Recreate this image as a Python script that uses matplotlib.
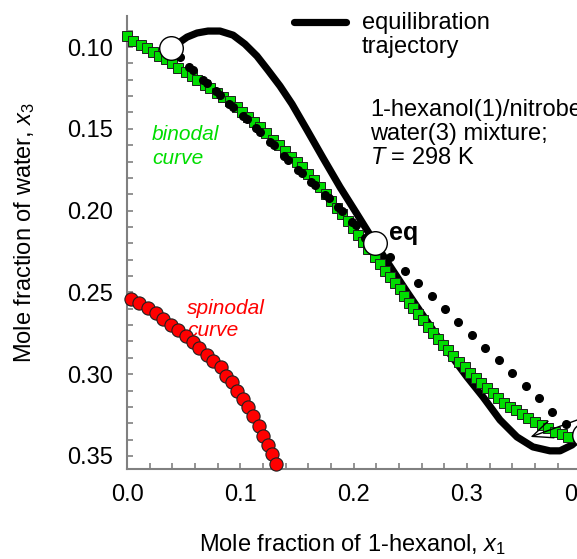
import matplotlib
matplotlib.use("Agg")
import matplotlib.pyplot as plt
from matplotlib.lines import Line2D
from matplotlib.ticker import MultipleLocator

plt.rcParams["font.family"] = ["Liberation Sans", "DejaVu Sans"]
plt.rcParams["mathtext.fontset"] = "custom"
plt.rcParams["mathtext.rm"] = "Liberation Sans"
plt.rcParams["mathtext.it"] = "Liberation Sans:italic"
plt.rcParams["mathtext.bf"] = "Liberation Sans:bold"

# binodal curve (green squares)
binodal_x = [0.0000, 0.0053, 0.0124, 0.0177, 0.0229, 0.0282, 0.0344, 0.0397, 0.0450, 0.0521,
             0.0574, 0.0618, 0.0688, 0.0733, 0.0794, 0.0847, 0.0909, 0.0971, 0.1015, 0.1068,
             0.1121, 0.1174, 0.1227, 0.1289, 0.1342, 0.1395, 0.1447, 0.1500, 0.1545, 0.1598,
             0.1650, 0.1703, 0.1756, 0.1800, 0.1853, 0.1898, 0.1951, 0.1995, 0.2039, 0.2083,
             0.2127, 0.2189, 0.2233, 0.2277, 0.2321, 0.2365, 0.2410, 0.2445, 0.2489, 0.2524,
             0.2568, 0.2613, 0.2657, 0.2701, 0.2745, 0.2789, 0.2833, 0.2877, 0.2930, 0.2983,
             0.3027, 0.3080, 0.3124, 0.3177, 0.3230, 0.3274, 0.3327, 0.3380, 0.3433, 0.3486,
             0.3539, 0.3601, 0.3663, 0.3716, 0.3778, 0.3839, 0.3892]
binodal_y = [0.0933, 0.0963, 0.0988, 0.1006, 0.1031, 0.1055, 0.1073, 0.1098, 0.1128, 0.1153,
             0.1177, 0.1202, 0.1232, 0.1251, 0.1281, 0.1306, 0.1330, 0.1367, 0.1397, 0.1428,
             0.1458, 0.1489, 0.1526, 0.1568, 0.1599, 0.1636, 0.1672, 0.1703, 0.1733, 0.1776,
             0.1813, 0.1856, 0.1899, 0.1941, 0.1984, 0.2021, 0.2064, 0.2106, 0.2149, 0.2192,
             0.2235, 0.2284, 0.2326, 0.2369, 0.2406, 0.2443, 0.2479, 0.2522, 0.2565, 0.2595,
             0.2632, 0.2669, 0.2711, 0.2748, 0.2785, 0.2822, 0.2852, 0.2889, 0.2925, 0.2956,
             0.2993, 0.3023, 0.3054, 0.3084, 0.3115, 0.3145, 0.3176, 0.3200, 0.3219, 0.3243,
             0.3268, 0.3292, 0.3310, 0.3329, 0.3353, 0.3365, 0.3384]

# spinodal curve (red circles)
spinodal_x = [0.0035, 0.0106, 0.0185, 0.0256, 0.0317, 0.0388, 0.0450, 0.0520, 0.0582, 0.0635,
              0.0705, 0.0758, 0.0829, 0.0873, 0.0926, 0.0970, 0.1023, 0.1067, 0.1111, 0.1164,
              0.1199, 0.1243, 0.1279, 0.1314]
spinodal_y = [0.2543, 0.2567, 0.2598, 0.2628, 0.2665, 0.2701, 0.2732, 0.2768, 0.2805, 0.2841,
              0.2884, 0.2921, 0.2957, 0.3012, 0.3049, 0.3104, 0.3152, 0.3201, 0.3256, 0.3317,
              0.3378, 0.3433, 0.3488, 0.3549]

# black dotted series
dots_x = [0.0468, 0.0547, 0.0583, 0.0671, 0.0706, 0.0786, 0.0821, 0.0900, 0.0936, 0.1024,
          0.1059, 0.1139, 0.1174, 0.1262, 0.1297, 0.1386, 0.1421, 0.1509, 0.1545, 0.1624,
          0.1659, 0.1748, 0.1783, 0.1862, 0.1898, 0.1986, 0.2021, 0.2101, 0.2136, 0.2215,
          0.2321, 0.2454, 0.2568, 0.2692, 0.2807, 0.2921, 0.3045, 0.3160, 0.3283, 0.3398,
          0.3522, 0.3636, 0.3751, 0.3875]
dots_y = [0.1061, 0.1122, 0.1141, 0.1202, 0.1220, 0.1269, 0.1293, 0.1348, 0.1367, 0.1422,
          0.1440, 0.1495, 0.1520, 0.1581, 0.1599, 0.1666, 0.1691, 0.1752, 0.1770, 0.1825,
          0.1844, 0.1905, 0.1923, 0.1978, 0.2002, 0.2070, 0.2088, 0.2167, 0.2192, 0.2235,
          0.2284, 0.2369, 0.2443, 0.2522, 0.2601, 0.2681, 0.2760, 0.2840, 0.2913, 0.2993,
          0.3072, 0.3145, 0.3231, 0.3304]

# equilibration trajectory (thick black line)
traj_x = [0.0388, 0.0468, 0.0530, 0.0618, 0.0715, 0.0821, 0.0936, 0.1041, 0.1147, 0.1244,
          0.1350, 0.1456, 0.1589, 0.1730, 0.1880, 0.2030, 0.2189, 0.2321, 0.2454, 0.2586,
          0.2718, 0.2851, 0.3001, 0.3142, 0.3292, 0.3442, 0.3583, 0.3733, 0.3822, 0.3928,
          0.3998]
traj_y = [0.1006, 0.0969, 0.0939, 0.0914, 0.0902, 0.0902, 0.0927, 0.0982, 0.1055, 0.1141,
          0.1238, 0.1348, 0.1507, 0.1678, 0.1856, 0.2021, 0.2198, 0.2339, 0.2479, 0.2614,
          0.2748, 0.2877, 0.3017, 0.3139, 0.3280, 0.3384, 0.3445, 0.3469, 0.3469, 0.3433,
          0.3390]

# open circles: start, eq, end
open_x = [0.0388, 0.2189, 0.4030]
open_y = [0.1006, 0.2198, 0.3370]

arrow_tip = (0.3539, 0.3390)
arrow_tail = (0.4260, 0.3208)

W, H = 577, 559
fig = plt.figure(figsize=(W / 100, H / 100), dpi=100)
ax = fig.add_axes([127 / W, 1 - 469 / H, (0.42 * 1133) / W, (469 - 16) / H])

ax.plot(traj_x, traj_y, color="black", lw=5.2, solid_capstyle="round", zorder=2, clip_on=False)
ax.plot(binodal_x, binodal_y, "s", ms=6.5, mfc="#00dd00", mec="#202020", mew=0.7,
        zorder=3, clip_on=False)
ax.plot(spinodal_x, spinodal_y, "o", ms=9.5, mfc="#ff0000", mec="#202020", mew=0.8,
        zorder=3, clip_on=False)
ax.plot(dots_x, dots_y, "o", ms=5.5, color="black", zorder=4, clip_on=False)
ax.plot(open_x, open_y, "o", ms=17, mfc="white", mec="black", mew=1.0, zorder=5, clip_on=False)

ax.annotate("", xy=arrow_tip, xytext=arrow_tail, annotation_clip=False,
            arrowprops=dict(arrowstyle="->,head_length=0.8,head_width=0.35",
                            lw=1.0, color="black", mutation_scale=18), zorder=6)

ax.set_xlim(0, 0.42)
ax.set_ylim(0.358, 0.081)
ax.xaxis.set_major_locator(MultipleLocator(0.1))
ax.xaxis.set_minor_locator(MultipleLocator(0.02))
ax.yaxis.set_major_locator(MultipleLocator(0.05))
ax.yaxis.set_minor_locator(MultipleLocator(0.01))
ax.xaxis.set_major_formatter(plt.FuncFormatter(lambda v, p: f"{v:.1f}"))
ax.yaxis.set_major_formatter(plt.FuncFormatter(lambda v, p: f"{v:.2f}"))

for side in ("top", "right"):
    ax.spines[side].set_visible(False)
for side in ("left", "bottom"):
    ax.spines[side].set_color("#808080")
    ax.spines[side].set_linewidth(1.5)
fs = 17
ax.tick_params(which="both", direction="in", length=4.5, width=1.2, color="#808080",
               labelsize=fs, labelcolor="black")
ax.tick_params(axis="x", which="major", pad=11)
ax.tick_params(axis="y", which="major", pad=10)

fig.text(353 / W, 1 - 545 / H, "Mole fraction of 1-hexanol, $x_1$", fontsize=fs,
         ha="center", va="center")
fig.text(25 / W, 1 - 232 / H, "Mole fraction of water, $x_3$", fontsize=fs,
         ha="center", va="center", rotation=90)

# legend sample
fig.add_artist(Line2D([294 / W, 346 / W], [1 - 22 / H, 1 - 22 / H], color="black",
                      lw=5.2, solid_capstyle="round"))
fig.text(362 / W, 1 - 23 / H, "equilibration", fontsize=fs, ha="left", va="center")
fig.text(362 / W, 1 - 47 / H, "trajectory", fontsize=fs, ha="left", va="center")

fig.text(370 / W, 1 - 110 / H, "1-hexanol(1)/nitrobenzene(2)/", fontsize=fs, ha="left", va="center")
fig.text(370 / W, 1 - 134 / H, "water(3) mixture;", fontsize=fs, ha="left", va="center")
fig.text(370 / W, 1 - 158 / H, "$T$ = 298 K", fontsize=fs, ha="left", va="center")

# curve labels sit behind the markers
tf = fig.transFigure
ax.text(152 / W, 1 - 134 / H, "binodal", fontsize=15, style="italic", color="#00dd00",
        ha="left", va="center", transform=tf, zorder=1)
ax.text(152 / W, 1 - 158 / H, "curve", fontsize=15, style="italic", color="#00dd00",
        ha="left", va="center", transform=tf, zorder=1)
ax.text(187 / W, 1 - 308 / H, "spinodal", fontsize=15, style="italic", color="#ff0000",
        ha="left", va="center", transform=tf, zorder=1)
ax.text(187 / W, 1 - 331 / H, "curve", fontsize=15, style="italic", color="#ff0000",
        ha="left", va="center", transform=tf, zorder=1)
ax.text(389 / W, 1 - 233 / H, "eq", fontsize=18, fontweight="bold", ha="left", va="center",
        transform=tf, zorder=6)

fig.savefig("out.png", dpi=100)
